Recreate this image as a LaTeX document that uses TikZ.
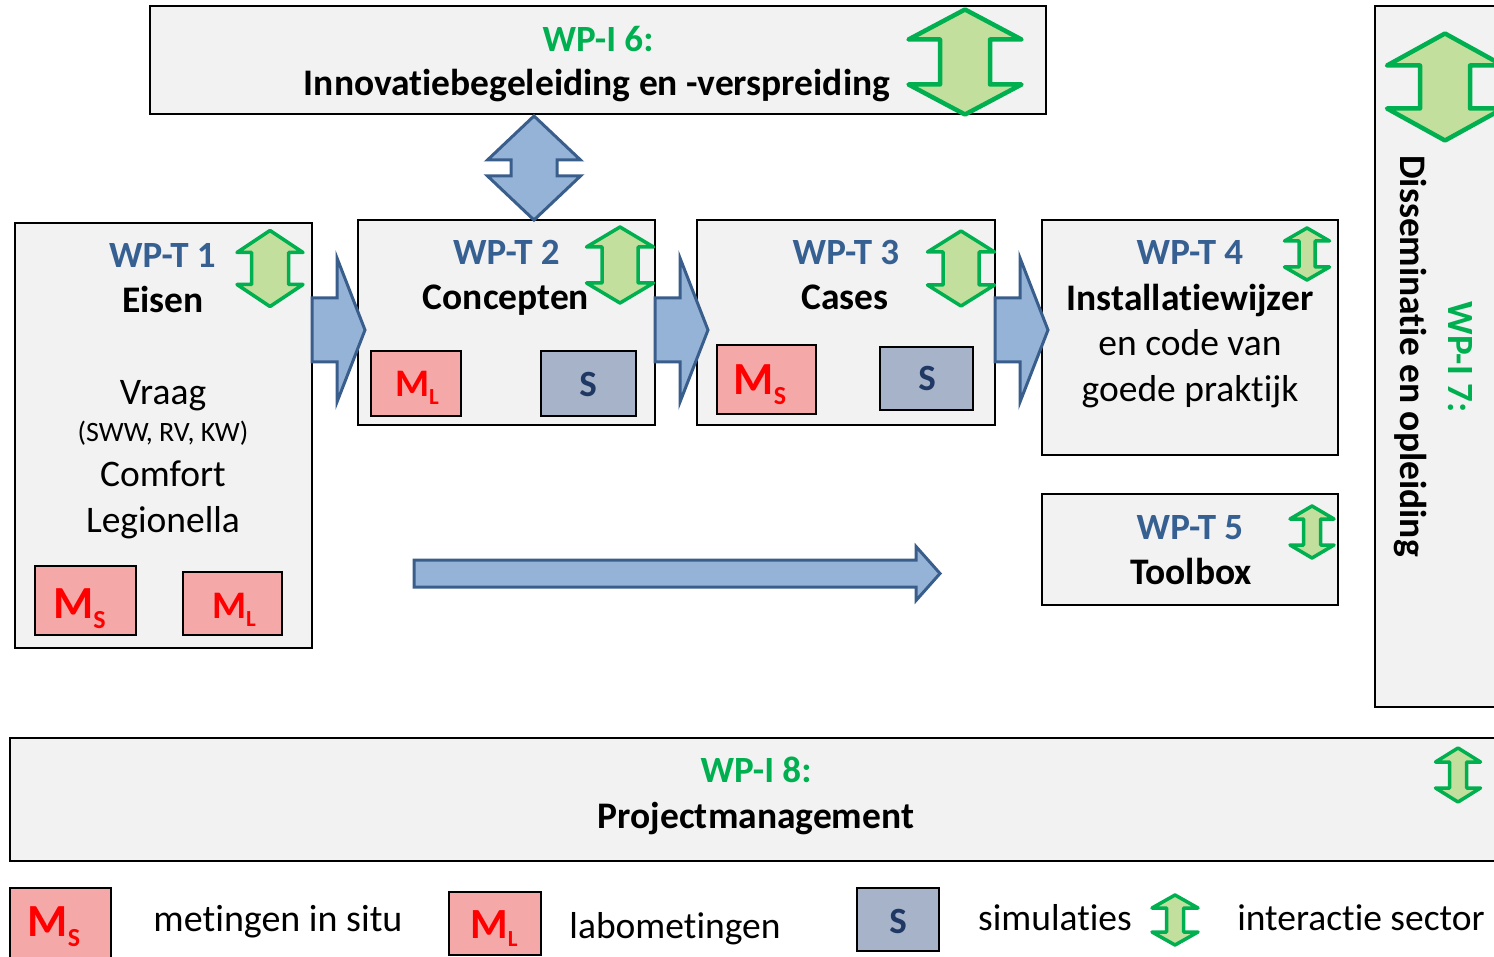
\documentclass[tikz,border=0pt]{standalone}
\usepackage{fontspec}
\setmainfont{Carlito}[Ligatures={NoCommon,NoContextual}]
\definecolor{boxfill}{HTML}{F2F2F2}
\definecolor{wpblue}{HTML}{376092}
\definecolor{wpgreen}{HTML}{00B050}
\definecolor{grfill}{HTML}{C3DF9D}
\definecolor{blfill}{HTML}{95B3D7}
\definecolor{blline}{HTML}{3A5E8C}
\definecolor{pinkfill}{HTML}{F5A8A8}
\definecolor{sfill}{HTML}{A6B3C8}
\definecolor{sblue}{HTML}{1F3864}
\definecolor{mred}{HTML}{FF0000}
% up/down double block arrow: style, cx, cy, width, height, head height, shaft width
\newcommand{\myudarrow}[7]{%
  \draw[#1] (#2,{#3-#5/2}) -- ({#2+#4/2},{#3-#5/2+#6}) -- ({#2+#7/2},{#3-#5/2+#6})
    -- ({#2+#7/2},{#3+#5/2-#6}) -- ({#2+#4/2},{#3+#5/2-#6}) -- (#2,{#3+#5/2})
    -- ({#2-#4/2},{#3+#5/2-#6}) -- ({#2-#7/2},{#3+#5/2-#6}) -- ({#2-#7/2},{#3-#5/2+#6})
    -- ({#2-#4/2},{#3-#5/2+#6}) -- cycle;}
% right block arrow: style, x start, cy, x head base, x tip, shaft half height, head half height
\newcommand{\myrarrow}[7]{%
  \draw[#1] (#2,{#3-#6}) -- (#4,{#3-#6}) -- (#4,{#3-#7}) -- (#5,#3) -- (#4,{#3+#7})
    -- (#4,{#3+#6}) -- (#2,{#3+#6}) -- cycle;}
\newcommand{\msubS}{M\raisebox{-10pt}{\fontsize{26}{26}\selectfont S}}
\newcommand{\msubL}{M\raisebox{-8pt}{\fontsize{23}{23}\selectfont L}}
\begin{document}
\begin{tikzpicture}[x=1pt,y=-1pt,
  wpbox/.style={draw=black, fill=boxfill, line width=2pt, inner sep=0pt, outer sep=0pt},
  pinkbox/.style={draw=black, fill=pinkfill, line width=2pt, inner sep=0pt},
  simbox/.style={draw=black, fill=sfill, line width=2pt, inner sep=0pt},
  mstext/.style={anchor=base, inner sep=0pt, text=mred, font=\fontsize{46}{50}\selectfont\bfseries},
  mltext/.style={anchor=base, inner sep=0pt, text=mred, font=\fontsize{39}{44}\selectfont\bfseries},
  stext/.style={anchor=base, inner sep=0pt, text=sblue, font=\fontsize{37}{44}\selectfont\bfseries},
  tblue/.style={anchor=base, inner sep=0pt, text=wpblue, font=\fontsize{37}{44}\selectfont\bfseries},
  tgreen/.style={anchor=base, inner sep=0pt, text=wpgreen, font=\fontsize{37}{44}\selectfont\bfseries},
  tbold/.style={anchor=base, inner sep=0pt, font=\fontsize{37.5}{44}\selectfont\bfseries},
  treg/.style={anchor=base, inner sep=0pt, font=\fontsize{37.5}{44}\selectfont},
  tsmall/.style={anchor=base, inner sep=0pt, font=\fontsize{28}{32}\selectfont},
  grarrow/.style={draw=wpgreen, fill=grfill, line width=4.5pt, line join=round},
  grsmall/.style={draw=wpgreen, fill=grfill, line width=3.5pt, line join=round},
  blarrow/.style={draw=blline, fill=blfill, line width=3pt, line join=miter},
]
\useasboundingbox (0,0) rectangle (1494,957);
\clip (0,0) rectangle (1494,957);

% ---- main boxes
\node[wpbox, minimum width=896, minimum height=108] (i6) at (598,60) {};
\node[wpbox, minimum width=297, minimum height=425] (t1) at (163.5,435.5) {};
\node[wpbox, minimum width=297, minimum height=205] (t2) at (506.5,322.5) {};
\node[wpbox, minimum width=298, minimum height=205] (t3) at (846,322.5) {};
\node[wpbox, minimum width=296, minimum height=235] (t4) at (1190,337.5) {};
\node[wpbox, minimum width=296, minimum height=111] (t5) at (1190,549.5) {};
\node[wpbox, minimum width=140, minimum height=701] (i7) at (1445,356.5) {};
\node[wpbox, minimum width=1505, minimum height=123] (i8) at (762.5,799.5) {};

% ---- blue block arrows
\myrarrow{blarrow}{312}{330}{337}{365}{32}{72}
\myrarrow{blarrow}{655}{330}{680}{708}{32}{72}
\myrarrow{blarrow}{995}{330}{1020}{1048}{32}{72}
\myrarrow{blarrow}{414}{573.5}{916}{940}{13.5}{27}
\myudarrow{blarrow}{534}{168}{93}{104}{44}{46}

% ---- measurement / simulation boxes
\node[pinkbox, minimum width=101, minimum height=69] (t1ms) at (85.5,600.5) {};
\node[pinkbox, minimum width=99, minimum height=63] (t1ml) at (232.5,603.5) {};
\node[pinkbox, minimum width=90, minimum height=65] (t2ml) at (416,383.5) {};
\node[simbox, minimum width=95, minimum height=65] (t2s) at (588.5,383.5) {};
\node[pinkbox, minimum width=99, minimum height=69] (t3ms) at (766.5,379.5) {};
\node[simbox, minimum width=93, minimum height=63] (t3s) at (926.5,378.5) {};

\node[mstext] (t1mst) at (79.5,618) {\msubS};
\node[mltext] (t1mlt) at (234,618) {\msubL};
\node[mltext] (t2mlt) at (417,397) {\msubL};
\node[stext] (t2st) at (588,397) {S};
\node[mstext] (t3mst) at (760,395) {\msubS};
\node[stext] (t3st) at (927,391) {S};

% ---- texts
\node[tgreen] (i6a) at (598,52) {WP-I 6:};
\node[tbold] (i6b) at (597,96) {Innovatiebegeleiding en -verspreiding};

\node[tblue] (t1a) at (162.5,268) {WP-T 1};
\node[tbold] (t1b) at (163,313) {Eisen};
\node[treg] (t1c) at (163,405) {Vraag};
\node[tsmall] (t1d) at (163,441) {(SWW, RV, KW)};
\node[treg] (t1e) at (163,486) {Comfort};
\node[treg] (t1f) at (163,532) {Legionella};

\node[tblue] (t2a) at (506.5,265) {WP-T 2};
\node[tbold] (t2b) at (506,310) {Concepten};

\node[tblue] (t3a) at (846,265) {WP-T 3};
\node[tbold] (t3b) at (845,310) {Cases};

\node[tblue] (t4a) at (1190,265) {WP-T 4};
\node[tbold] (t4b) at (1190,311) {Installatiewijzer};
\node[treg] (t4c) at (1190,356) {en code van};
\node[treg] (t4d) at (1190,402) {goede praktijk};

\node[tblue] (t5a) at (1190,539) {WP-T 5};
\node[tbold] (t5b) at (1191,584) {Toolbox};

\node[tgreen, rotate=-90] (i7a) at (1448,357) {WP-I 7:};
\node[tbold, rotate=-90] (i7b) at (1400,356) {Disseminatie en opleiding};

\node[tgreen] (i8a) at (756,782) {WP-I 8:};
\node[tbold] (i8b) at (756,828) {Projectmanagement};

% ---- green interaction arrows
\myudarrow{grarrow}{965}{62}{113}{105}{30}{50}
\myudarrow{grarrow}{1445}{87}{116}{107}{32}{50}
\myudarrow{grsmall}{270}{268.5}{66}{76}{22}{37}
\myudarrow{grsmall}{620}{265}{67}{76}{20}{36}
\myudarrow{grsmall}{961}{268.5}{67}{75}{21}{36}
\myudarrow{grsmall}{1307}{254}{45}{52}{13}{16}
\myudarrow{grsmall}{1312}{532}{44}{52}{13}{17}
\myudarrow{grsmall}{1458}{775}{45}{54}{14}{17}

% ---- legend
\node[pinkbox, minimum width=101, minimum height=74] (lms) at (60.5,925) {};
\node[mstext] (lmst) at (54,936) {\msubS};
\node[treg, font=\fontsize{38}{44}\selectfont] (lmsl) at (278,931) {metingen in situ};
\node[pinkbox, minimum width=92, minimum height=63] (lml) at (495,923.5) {};
\node[mltext, font=\fontsize{43}{48}\selectfont\bfseries] (lmlt) at (494,938) {\msubL};
\node[treg] (lmll) at (675,938) {labometingen};
\node[simbox, minimum width=82, minimum height=63] (ls) at (898,919.5) {};
\node[stext] (lst) at (898,933) {S};
\node[treg] (lsl) at (1055,930) {simulaties};
\myudarrow{grsmall}{1175}{920}{46}{50}{13}{17}
\node[treg] (lil) at (1361,930) {interactie sector};
\end{tikzpicture}
\end{document}
